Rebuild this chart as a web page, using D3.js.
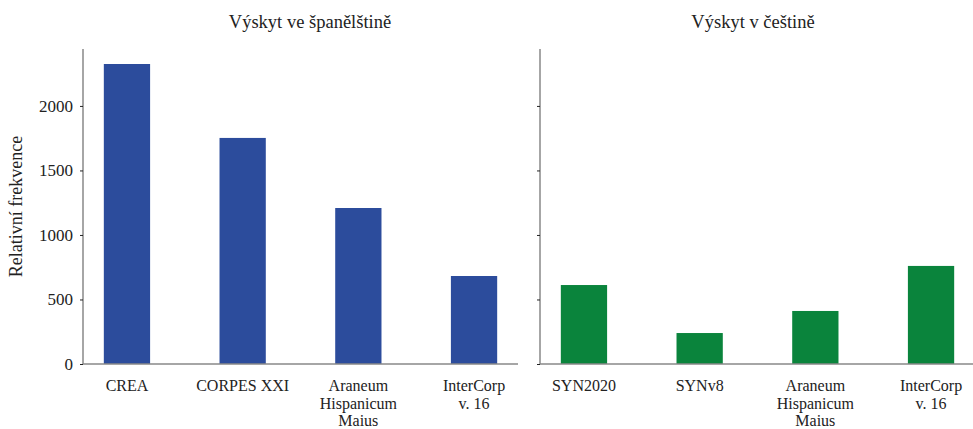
<!DOCTYPE html>
<html>
<head>
<meta charset="utf-8">
<script src="https://cdn.jsdelivr.net/npm/d3@7"></script>
<style>
  body { margin: 0; background: #fff; }
  svg text { font-family: "Liberation Serif", "DejaVu Serif", serif; fill: #222; }
  .axis path { stroke: #888; stroke-width: 1.5; }
  .axis line { stroke: #222; }
</style>
</head>
<body>
<div id="chart"></div>
<script>
const spanishCorpora = ["CREA", "CORPES XXI", "Araneum\nHispanicum\nMaius", "InterCorp\nv. 16"];
const spanishValues = [2325, 1752, 1209, 682];
const czechCorpora = ["SYN2020", "SYNv8", "Araneum\nHispanicum\nMaius", "InterCorp\nv. 16"];
const czechValues = [612, 240, 411, 760];
const yTicks = [0, 500, 1000, 1500, 2000];
const panelTitles = ["Výskyt ve španělštině", "Výskyt v češtině"];
const yLabel = "Relativní frekvence";

const config = {
  width: 973,
  height: 429,
  top: 49,
  bottom: 364,
  panels: [
    { x0: 83, x1: 518, titleX: 310, color: "#2c4c9c", labels: true },
    { x0: 540, x1: 975, titleX: 753, color: "#0a843c", labels: false },
  ],
};

const svg = d3.select("#chart").append("svg")
  .attr("width", config.width)
  .attr("height", config.height);

const yMax = d3.max(spanishValues.concat(czechValues)) * 1.05;
const y = d3.scaleLinear().domain([0, yMax]).range([config.bottom, config.top]);

const datasets = [
  { names: spanishCorpora, values: spanishValues },
  { names: czechCorpora, values: czechValues },
];

datasets.forEach((ds, i) => {
  const p = config.panels[i];
  const x = d3.scaleBand()
    .domain(ds.names)
    .range([p.x0, p.x1])
    .paddingInner(0.6)
    .paddingOuter(0.18);

  const g = svg.append("g");

  g.selectAll("rect.bar")
    .data(ds.names.map((n, k) => ({ name: n, value: ds.values[k] })))
    .join("rect")
    .attr("class", "bar")
    .attr("x", d => x(d.name))
    .attr("width", x.bandwidth())
    .attr("y", d => y(d.value))
    .attr("height", d => y(0) - y(d.value))
    .attr("fill", p.color);

  // y axis
  const yAxis = g.append("g")
    .attr("class", "axis")
    .attr("transform", `translate(${p.x0},0)`)
    .call(d3.axisLeft(y).tickValues(yTicks).tickSize(3).tickSizeOuter(0)
      .tickFormat(p.labels ? d3.format("d") : ""));
  yAxis.select(".domain").attr("d", `M0,${config.top}V${config.bottom}`);
  yAxis.selectAll("text")
    .attr("x", -10)
    .style("font-size", "17px");

  // x axis
  const xAxis = g.append("g")
    .attr("class", "axis")
    .attr("transform", `translate(0,${config.bottom})`)
    .call(d3.axisBottom(x).tickSize(0).tickSizeOuter(0));
  xAxis.select(".domain").attr("d", `M${p.x0},0H${p.x1}`);
  xAxis.selectAll(".tick text").each(function (d) {
    const t = d3.select(this).text(null)
      .attr("y", 27)
      .attr("dy", null)
      .style("font-size", "16px");
    d.split("\n").forEach((line, k) => {
      t.append("tspan")
        .attr("x", 0)
        .attr("dy", k === 0 ? 0 : 17.5)
        .text(line);
    });
  });

  svg.append("text")
    .attr("x", p.titleX)
    .attr("y", 28)
    .attr("text-anchor", "middle")
    .style("font-size", "18.5px")
    .text(panelTitles[i]);
});

svg.append("text")
  .attr("transform", `translate(22,${(config.top + config.bottom) / 2}) rotate(-90)`)
  .attr("text-anchor", "middle")
  .style("font-size", "18px")
  .text(yLabel);
</script>
</body>
</html>
